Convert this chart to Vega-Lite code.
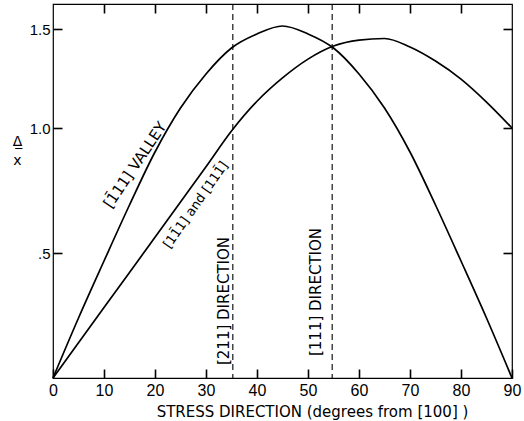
{
  "$schema": "https://vega.github.io/schema/vega-lite/v6.json",
  "width": 459,
  "height": 374,
  "autosize": "none",
  "padding": {"left": 53, "top": 4, "right": 12, "bottom": 43},
  "background": "white",
  "config": {
    "view": {"stroke": "black", "strokeWidth": 1.2},
    "font": "DejaVu Sans",
    "axis": {
      "grid": false,
      "domain": false,
      "ticks": true,
      "tickColor": "black",
      "tickOpacity": 1,
      "tickWidth": 1.6,
      "tickSize": 9,
      "offset": -9,
      "labelColor": "black",
      "titleColor": "black",
      "labelFont": "Liberation Sans",
      "titleFont": "DejaVu Sans",
      "titleFontWeight": "normal"
    }
  },
  "datasets": {
    "curves": [
      {"theta": 0, "v": 0, "series": "[1̄11] valley"},
      {"theta": 5, "v": 0.24, "series": "[1̄11] valley"},
      {"theta": 10, "v": 0.468, "series": "[1̄11] valley"},
      {"theta": 15, "v": 0.692, "series": "[1̄11] valley"},
      {"theta": 20, "v": 0.904, "series": "[1̄11] valley"},
      {"theta": 25, "v": 1.101, "series": "[1̄11] valley"},
      {"theta": 30, "v": 1.273, "series": "[1̄11] valley"},
      {"theta": 35, "v": 1.404, "series": "[1̄11] valley"},
      {"theta": 40, "v": 1.475, "series": "[1̄11] valley"},
      {"theta": 45, "v": 1.515, "series": "[1̄11] valley"},
      {"theta": 50, "v": 1.475, "series": "[1̄11] valley"},
      {"theta": 55, "v": 1.404, "series": "[1̄11] valley"},
      {"theta": 60, "v": 1.273, "series": "[1̄11] valley"},
      {"theta": 65, "v": 1.101, "series": "[1̄11] valley"},
      {"theta": 70, "v": 0.904, "series": "[1̄11] valley"},
      {"theta": 75, "v": 0.692, "series": "[1̄11] valley"},
      {"theta": 80, "v": 0.468, "series": "[1̄11] valley"},
      {"theta": 85, "v": 0.24, "series": "[1̄11] valley"},
      {"theta": 90, "v": 0, "series": "[1̄11] valley"},
      {"theta": 0, "v": 0, "series": "[11̄1] and [111̄]"},
      {"theta": 5, "v": 0.141, "series": "[11̄1] and [111̄]"},
      {"theta": 10, "v": 0.282, "series": "[11̄1] and [111̄]"},
      {"theta": 15, "v": 0.422, "series": "[11̄1] and [111̄]"},
      {"theta": 20, "v": 0.563, "series": "[11̄1] and [111̄]"},
      {"theta": 25, "v": 0.704, "series": "[11̄1] and [111̄]"},
      {"theta": 30, "v": 0.845, "series": "[11̄1] and [111̄]"},
      {"theta": 35, "v": 0.988, "series": "[11̄1] and [111̄]"},
      {"theta": 40, "v": 1.135, "series": "[11̄1] and [111̄]"},
      {"theta": 45, "v": 1.253, "series": "[11̄1] and [111̄]"},
      {"theta": 50, "v": 1.348, "series": "[11̄1] and [111̄]"},
      {"theta": 55, "v": 1.414, "series": "[11̄1] and [111̄]"},
      {"theta": 60, "v": 1.444, "series": "[11̄1] and [111̄]"},
      {"theta": 65, "v": 1.452, "series": "[11̄1] and [111̄]"},
      {"theta": 70, "v": 1.409, "series": "[11̄1] and [111̄]"},
      {"theta": 75, "v": 1.338, "series": "[11̄1] and [111̄]"},
      {"theta": 80, "v": 1.247, "series": "[11̄1] and [111̄]"},
      {"theta": 85, "v": 1.131, "series": "[11̄1] and [111̄]"},
      {"theta": 90, "v": 1.0, "series": "[11̄1] and [111̄]"}
    ],
    "dirs": [
      {"theta": 35.26, "name": "[211]"},
      {"theta": 54.74, "name": "[111]"}
    ],
    "valleyLabel": [
      {"theta": 16.1, "v": 0.852, "text": "[1̄11] VALLEY"}
    ],
    "pairLabel": [
      {"theta": 28.0, "v": 0.692, "text": "[11̄1] and [111̄]"}
    ],
    "dirLabels": [
      {"theta": 33.5, "v": 0.308, "text": "[211] DIRECTION"},
      {"theta": 51.6, "v": 0.344, "text": "[111] DIRECTION"}
    ]
  },
  "layer": [
    {
      "data": {"name": "curves"},
      "mark": {"type": "line", "interpolate": "monotone", "color": "black", "strokeWidth": 1.7},
      "encoding": {
        "x": {
          "field": "theta", "type": "quantitative",
          "scale": {"domain": [0, 90], "nice": false, "zero": false},
          "axis": {
            "orient": "bottom",
            "values": [0, 10, 20, 30, 40, 50, 60, 70, 80, 90],
            "labelFontSize": 16,
            "labelPadding": 4,
            "labelFlush": false,
            "title": "STRESS DIRECTION (degrees from [100] )",
            "titleFontSize": 15,
            "titleX": 259,
            "titleY": 47,
            "titleBaseline": "alphabetic",
            "titleAnchor": null,
            "titleAlign": "center"
          }
        },
        "y": {
          "field": "v", "type": "quantitative",
          "scale": {"domain": [0, 1, 1.5, 1.626], "range": [374, 124, 25, 0], "nice": false, "zero": false},
          "axis": {
            "orient": "left",
            "values": [0.5, 1, 1.5],
            "labelExpr": "datum.value == 0.5 ? '.5' : format(datum.value, '.1f')",
            "labelFontSize": 15,
            "labelPadding": 3,
            "title": ["Δ̲", "x"],
            "titleFontSize": 14,
            "titleLineHeight": 19,
            "titleAngle": 0,
            "titleX": -45,
            "titleY": 137,
            "titleAlign": "center",
            "titleBaseline": "middle"
          }
        },
        "detail": {"field": "series", "type": "nominal"}
      }
    },
    {
      "data": {"name": "dirs"},
      "mark": {"type": "rule", "color": "black", "strokeWidth": 1.1, "strokeDash": [6, 4]},
      "encoding": {
        "x": {
          "field": "theta", "type": "quantitative",
          "scale": {"domain": [0, 90], "nice": false, "zero": false},
          "axis": {
            "orient": "top",
            "values": [10, 20, 30, 40, 50, 60, 70, 80],
            "labels": false,
            "title": null
          }
        }
      }
    },
    {
      "data": {"name": "valleyLabel"},
      "mark": {"type": "text", "angle": -56, "fontSize": 15, "align": "center", "baseline": "middle", "color": "black"},
      "encoding": {
        "x": {"field": "theta", "type": "quantitative", "axis": null},
        "y": {
          "field": "v", "type": "quantitative",
          "axis": {
            "orient": "right",
            "values": [0.5, 1, 1.5],
            "labels": false,
            "title": null
          }
        },
        "text": {"field": "text"}
      }
    },
    {
      "data": {"name": "pairLabel"},
      "mark": {"type": "text", "angle": -55, "fontSize": 13, "align": "center", "baseline": "middle", "color": "black"},
      "encoding": {
        "x": {"field": "theta", "type": "quantitative", "axis": null},
        "y": {"field": "v", "type": "quantitative", "axis": null},
        "text": {"field": "text"}
      }
    },
    {
      "data": {"name": "dirLabels"},
      "mark": {"type": "text", "angle": -90, "fontSize": 15, "align": "center", "baseline": "middle", "color": "black"},
      "encoding": {
        "x": {"field": "theta", "type": "quantitative", "axis": null},
        "y": {"field": "v", "type": "quantitative", "axis": null},
        "text": {"field": "text"}
      }
    }
  ],
  "resolve": {"axis": {"x": "independent", "y": "independent"}}
}
